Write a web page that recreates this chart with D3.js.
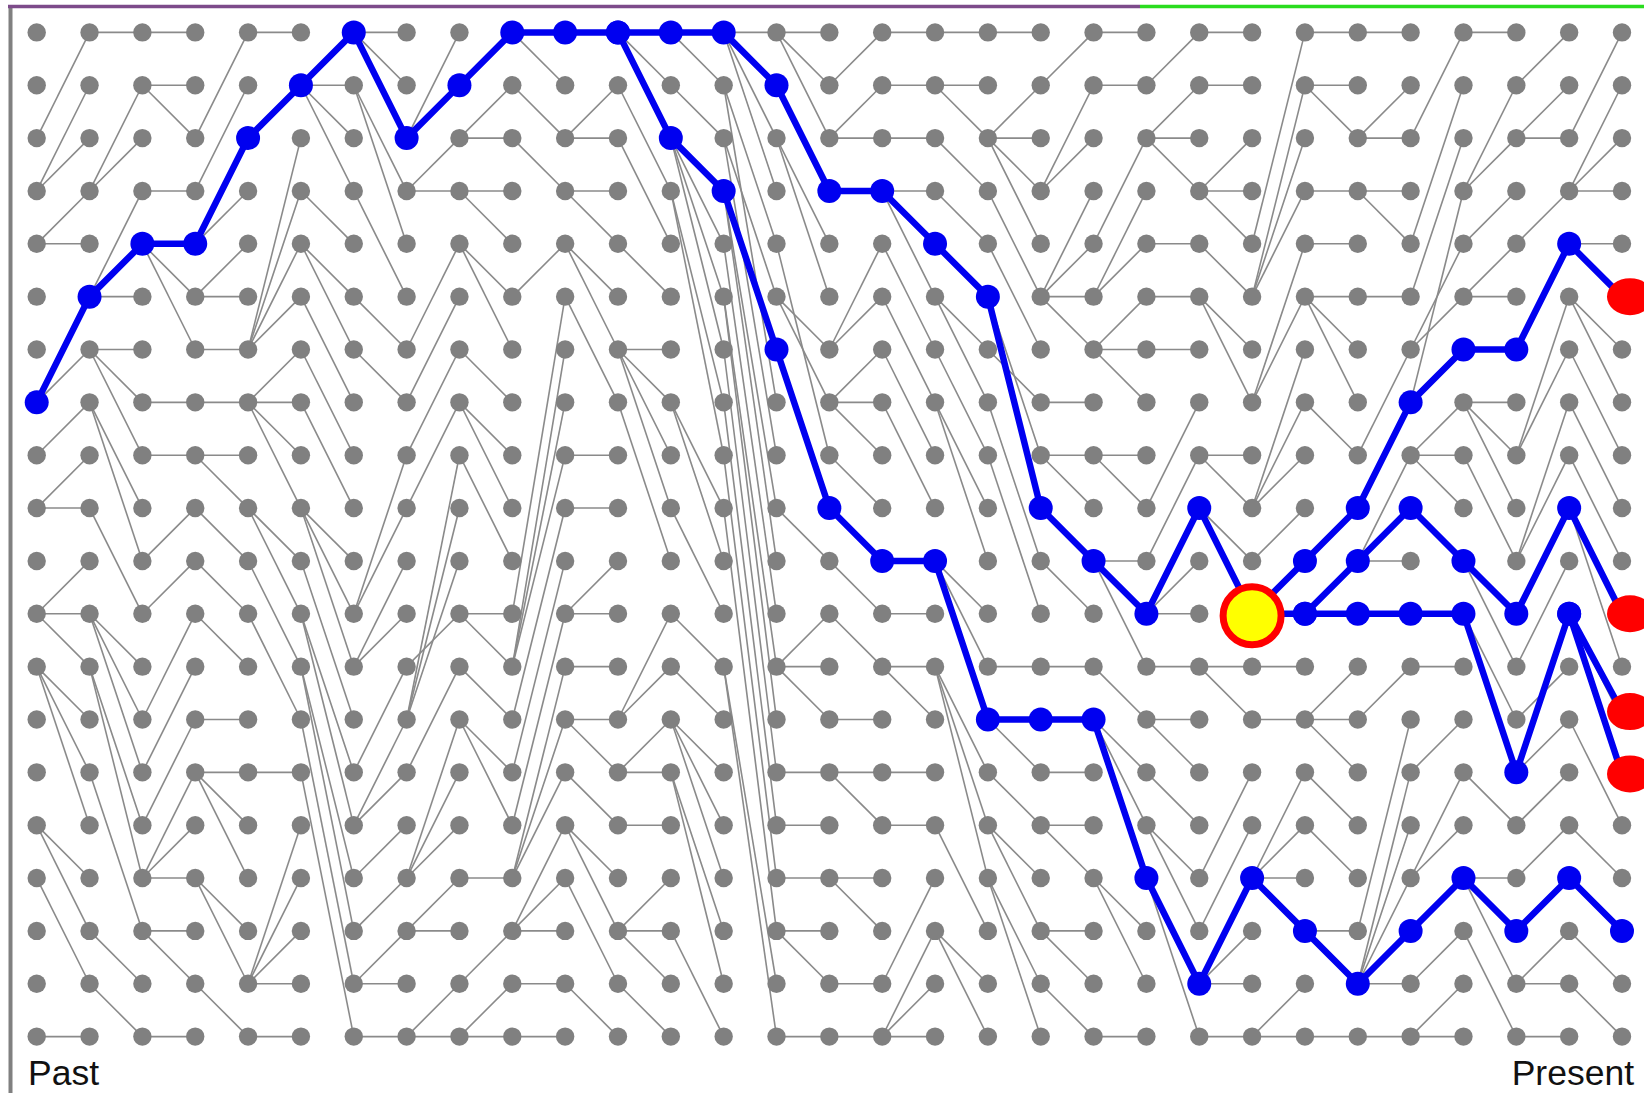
<!DOCTYPE html>
<html>
<head>
<meta charset="utf-8">
<script src="https://cdn.jsdelivr.net/npm/d3@7"></script>
<style>
  html, body { margin: 0; padding: 0; background: #ffffff; }
  svg { display: block; }
</style>
</head>
<body>
<svg id="chart" width="1644" height="1093"></svg>
<script>
// ---------------- DATA ----------------
const nGenerations = 31;   // columns, Past -> Present
const nIndividuals = 20;   // rows

// parent row (in previous generation) of every individual, generations 1..30
const parentsGen01 = [2,3,3,4,4,7,7,8,9,9,11,11,11,12,12,12,15,15,16,19];
const parentsGen02 = [0,3,3,5,5,5,6,6,6,7,7,9,11,11,11,12,12,14,17,18];
const parentsGen03 = [0,1,1,3,4,4,4,7,8,10,11,13,14,15,16,16,16,17,17,19];
const parentsGen04 = [2,3,4,4,5,5,6,7,8,8,9,10,11,13,14,14,14,16,16,18];
const parentsGen05 = [0,2,6,6,6,6,7,7,7,7,9,9,10,11,14,18,18,18,18,19];
const parentsGen06 = [1,1,1,1,3,4,4,5,6,7,9,9,9,10,11,11,12,12,13,14];
const parentsGen07 = [0,0,0,1,1,3,5,6,11,11,12,12,14,15,15,16,17,18,18,19];
const parentsGen08 = [2,2,3,3,6,7,8,9,13,13,13,12,14,16,16,16,17,17,19,19];
const parentsGen09 = [1,2,2,3,3,4,4,6,7,7,8,11,11,12,13,13,16,18,19,19];
const parentsGen10 = [0,0,1,2,5,11,12,12,12,13,14,15,16,16,16,17,17,17,18,19];
const parentsGen11 = [0,2,2,3,3,4,4,5,8,9,11,11,12,13,13,14,15,15,16,18];
const parentsGen12 = [0,0,0,1,2,4,6,6,6,6,7,13,13,14,14,15,17,17,17,18];
const parentsGen13 = [0,0,1,2,2,2,2,3,3,7,7,9,11,12,13,13,13,14,14,17];
const parentsGen14 = [0,0,0,0,1,2,3,1,2,3,3,4,5,5,6,7,8,9,12,12];
const parentsGen15 = [0,0,0,1,2,2,5,5,4,6,9,12,12,12,14,15,16,17,17,19];
const parentsGen16 = [1,2,2,3,6,6,7,7,7,8,9,10,11,13,14,14,16,16,18,19];
const parentsGen17 = [0,1,2,3,3,3,4,5,6,7,10,11,12,12,14,15,18,19,19,19];
const parentsGen18 = [0,1,1,2,3,4,5,5,6,7,7,10,10,10,12,12,12,15,17,17];
const parentsGen19 = [0,2,2,2,2,3,4,6,5,5,7,8,12,13,13,14,15,15,16,16];
const parentsGen20 = [1,3,3,5,5,5,5,7,8,8,9,10,12,13,14,15,15,17,17,18];
const parentsGen21 = [0,1,4,5,5,6,6,6,8,8,10,10,10,12,13,13,13,16,16,19];
const parentsGen22 = [1,2,2,2,4,5,6,9,10,11,11,11,12,13,13,14,15,15,16,16];
const parentsGen23 = [0,1,3,3,3,4,5,5,8,8,9,9,12,12,16,17,18,18,18,19];
const parentsGen24 = [4,5,5,5,7,7,9,9,9,10,11,11,12,13,16,16,16,16,19,19];
const parentsGen25 = [0,1,1,3,4,5,5,5,7,10,11,11,13,13,13,14,15,17,17,19];
const parentsGen26 = [0,2,2,3,3,5,8,9,10,10,10,11,13,17,18,18,18,18,18,19];
const parentsGen27 = [2,4,5,7,6,6,7,8,8,8,9,11,12,14,16,16,17,18,19,19];
const parentsGen28 = [0,3,3,4,5,5,6,7,7,7,8,10,10,11,11,14,16,16,16,17];
const parentsGen29 = [1,2,2,4,6,8,8,10,10,11,12,14,13,14,15,16,17,18,18,19];
const parentsGen30 = [2,3,3,3,4,4,5,5,6,7,8,9,9,11,11,13,15,16,17,18];

// traced lineages (start generation, rows per generation)
const lineageMain   = { start: 0,  rows: [7,5,4,4,2,1,0,2,1,0,0,0,0,0,1,3,3,4,5,9,10,11,9,11] };
const lineageBranch = { start: 11, rows: [0,2,3,6,9,10,10,13,13,13,16,18,16,17,18,17,16,17,16,17] };
const lineageTop    = { start: 23, rows: [11,10,9,7,6,6,4,5] };
const lineageMid    = { start: 24, rows: [11,10,9,10,11,9,11] };
const lineageLow    = { start: 23, rows: [11,11,11,11,11,14,11,12.85] };
const lineageLow2   = { start: 29, rows: [11,14.03] };

// sampled present-day individuals (red) and the common ancestor (yellow)
const sampledGen = 30;
const sampledRows = [5, 11, 12.85, 14.03];
const ancestorNode = { gen: 23, row: 11 };

const labelPast = "Past";
const labelPresent = "Present";

// ---------------- DRAW ----------------
const parentTable = [null, parentsGen01, parentsGen02, parentsGen03, parentsGen04, parentsGen05,
  parentsGen06, parentsGen07, parentsGen08, parentsGen09, parentsGen10, parentsGen11, parentsGen12,
  parentsGen13, parentsGen14, parentsGen15, parentsGen16, parentsGen17, parentsGen18, parentsGen19,
  parentsGen20, parentsGen21, parentsGen22, parentsGen23, parentsGen24, parentsGen25, parentsGen26,
  parentsGen27, parentsGen28, parentsGen29, parentsGen30];

const svg = d3.select("#chart");
const W = 1644, H = 1093;

const x = d3.scaleLinear().domain([0, nGenerations - 1]).range([36.7, 1622]);
const y = d3.scaleLinear().domain([0, nIndividuals - 1]).range([32.4, 1036.6]);

svg.append("rect").attr("width", W).attr("height", H).attr("fill", "#ffffff");

// frame: left gray rule, top purple / green rule
svg.append("line").attr("x1", 10.5).attr("x2", 10.5).attr("y1", 5).attr("y2", H)
  .attr("stroke", "#808080").attr("stroke-width", 4);
svg.append("line").attr("x1", 8).attr("x2", 1140).attr("y1", 6.5).attr("y2", 6.5)
  .attr("stroke", "#7d4b8a").attr("stroke-width", 3.5);
svg.append("line").attr("x1", 1140).attr("x2", W).attr("y1", 6.5).attr("y2", 6.5)
  .attr("stroke", "#2adc1e").attr("stroke-width", 3.5);

// genealogy links
const links = [];
for (let g = 1; g < nGenerations; g++) {
  parentTable[g].forEach((p, r) => links.push({ g, r, p }));
}
svg.append("g").selectAll("line").data(links).join("line")
  .attr("x1", d => x(d.g - 1)).attr("y1", d => y(d.p))
  .attr("x2", d => x(d.g)).attr("y2", d => y(d.r))
  .attr("stroke", "#8a8a8a").attr("stroke-width", 1.6);

// individuals
const nodes = [];
for (let g = 0; g < nGenerations; g++) for (let r = 0; r < nIndividuals; r++) nodes.push({ g, r });
svg.append("g").selectAll("circle").data(nodes).join("circle")
  .attr("cx", d => x(d.g)).attr("cy", d => y(d.r)).attr("r", 9.2)
  .attr("fill", "#808080");

// lineages
const lineages = [lineageMain, lineageBranch, lineageTop, lineageMid, lineageLow, lineageLow2];
const blue = "#0000f0";
const lineGen = d3.line().x(d => x(d[0])).y(d => y(d[1]));
lineages.forEach(L => {
  const pts = L.rows.map((r, i) => [L.start + i, r]);
  svg.append("path").attr("d", lineGen(pts)).attr("fill", "none")
    .attr("stroke", blue).attr("stroke-width", 6.5)
    .attr("stroke-linejoin", "round").attr("stroke-linecap", "round");
});
const blueNodes = [];
lineages.forEach(L => L.rows.forEach((r, i) => {
  const g = L.start + i;
  const isRed = g === sampledGen && sampledRows.includes(r);
  const isAnc = g === ancestorNode.gen && r === ancestorNode.row;
  if (!isRed && !isAnc) blueNodes.push({ g, r });
}));
svg.append("g").selectAll("circle").data(blueNodes).join("circle")
  .attr("cx", d => x(d.g)).attr("cy", d => y(d.r)).attr("r", 12)
  .attr("fill", blue);

// sampled individuals
svg.append("g").selectAll("ellipse").data(sampledRows).join("ellipse")
  .attr("cx", x(sampledGen) + 8).attr("cy", d => y(d))
  .attr("rx", 23).attr("ry", 18.5).attr("fill", "#ff0000");

// common ancestor
svg.append("circle")
  .attr("cx", x(ancestorNode.gen)).attr("cy", y(ancestorNode.row) + 2)
  .attr("r", 29).attr("fill", "#ffff00")
  .attr("stroke", "#ff0000").attr("stroke-width", 7);

// labels
svg.append("text").attr("x", 28).attr("y", 1085).text(labelPast)
  .attr("font-family", "Liberation Sans, Arial, sans-serif").attr("font-size", 35.5).attr("fill", "#111");
svg.append("text").attr("x", 1634).attr("y", 1085).attr("text-anchor", "end").text(labelPresent)
  .attr("font-family", "Liberation Sans, Arial, sans-serif").attr("font-size", 35.5).attr("fill", "#111");
</script>
</body>
</html>
